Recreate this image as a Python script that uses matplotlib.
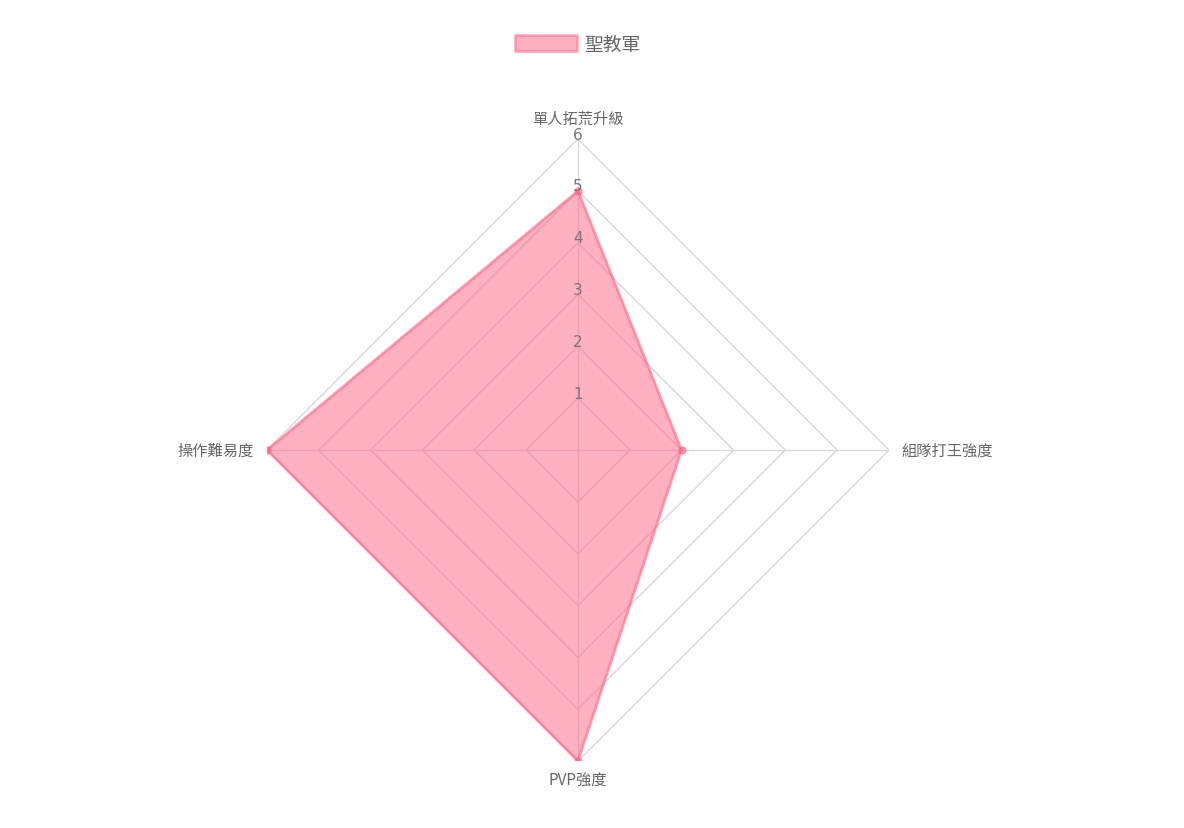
import numpy as np
import matplotlib
matplotlib.use("Agg")
import matplotlib.pyplot as plt
from matplotlib.patches import Patch

plt.rcParams["font.family"] = ["Noto Sans CJK TC", "DejaVu Sans"]

# data
categories = ["單人拓荒升級", "組隊打王強度", "PVP強度", "操作難易度"]
values = [5, 2, 6, 6]
series_name = "聖教軍"
ticks = [1, 2, 3, 4, 5, 6]

pink = "#ff6384"
grid_col = "#d9d9d9"
text_col = "#666666"

fig = plt.figure(figsize=(11.84, 8.29), dpi=100)
ax = fig.add_axes([0.2255, 0.0808, 0.5253, 0.7503], projection="polar")
ax.set_theta_offset(np.pi / 2)
ax.set_theta_direction(-1)
ax.set_ylim(0, max(ticks))
ax.grid(False)
ax.spines["polar"].set_visible(False)
ax.set_xticks([])
ax.set_yticks([])
ax.patch.set_alpha(0)

n = len(categories)
angles = np.arange(n) * 2 * np.pi / n
closed = np.append(angles, angles[0])

# polygon grid + spokes
for t in ticks:
    ax.plot(closed, [t] * (n + 1), color=grid_col, lw=1, zorder=1)
for a in angles:
    ax.plot([a, a], [0, max(ticks)], color=grid_col, lw=1, zorder=1)

# data polygon
vals = np.append(values, values[0])
ax.fill(closed, vals, color=pink, alpha=0.5, lw=0, zorder=2)
ax.plot(closed, vals, color=pink, alpha=0.6, lw=2, zorder=3)
ax.plot(angles, values, "o", color=pink, alpha=0.6, ms=5, zorder=4)

# radial tick labels
for t in ticks:
    ax.annotate(str(t), (0, t), xytext=(0, 5), textcoords="offset pixels",
                ha="center", va="center", fontsize=11, color="#777777",
                family=["DejaVu Sans"], zorder=5)

# point labels
offsets = [((0, 21), "center", "center"), ((12, 0), "left", "center"),
           ((0, -19), "center", "center"), ((-13, 0), "right", "center")]
for a, lab, (off, ha, va) in zip(angles, categories, offsets):
    ax.annotate(lab, (a, max(ticks)), xytext=off, textcoords="offset pixels",
                ha=ha, va=va, fontsize=11, color=text_col, annotation_clip=False)

handle = Patch(facecolor=pink, edgecolor=pink, alpha=0.5, lw=2)
fig.legend([handle], [series_name], loc="center",
           bbox_to_anchor=(578 / 1184, 1 - 45 / 829), frameon=False,
           fontsize=13.5, labelcolor=text_col, handlelength=3.3, handleheight=1.0,
           handletextpad=0.4)

fig.savefig("out.png", dpi=100, facecolor="white")
